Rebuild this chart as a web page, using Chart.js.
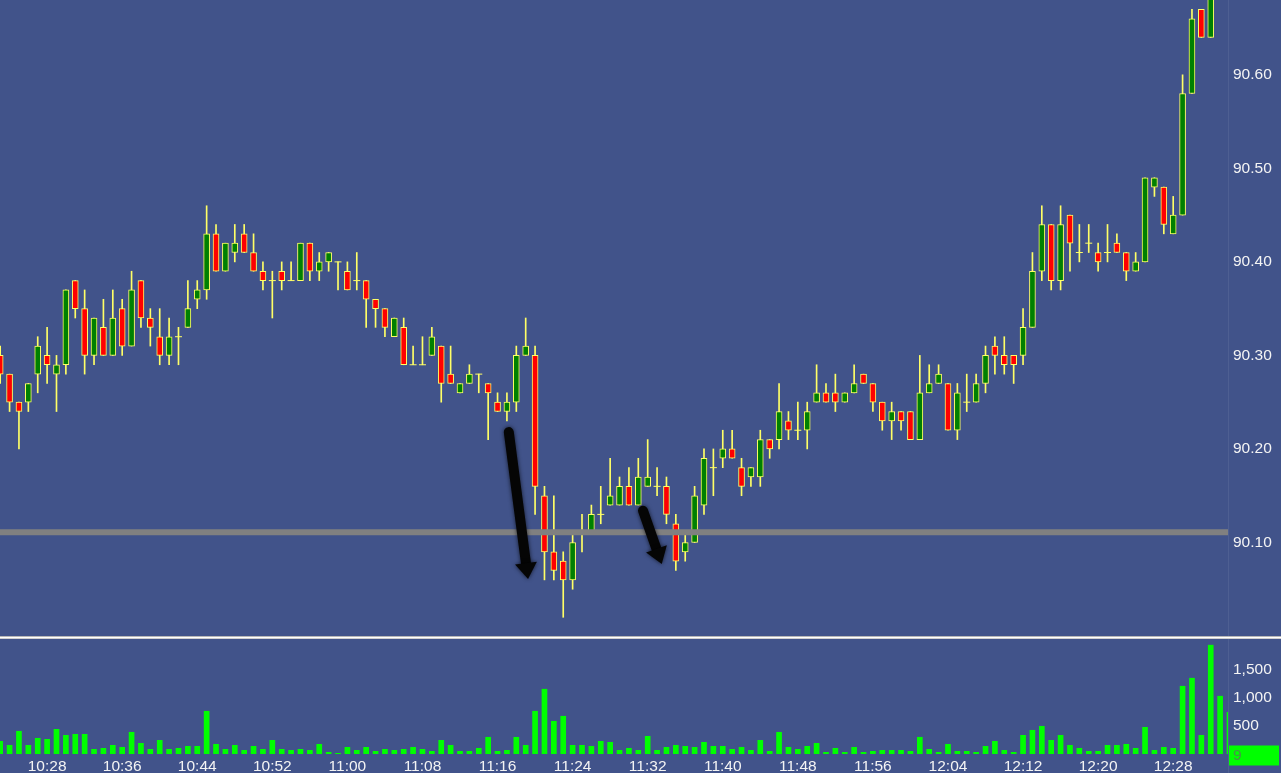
<!DOCTYPE html>
<html>
<head>
<meta charset="utf-8">
<script src="https://cdn.jsdelivr.net/npm/chart.js@4.4.0/dist/chart.umd.min.js"></script>
<style>
    html, body { margin: 0; padding: 0; background: #41538a; overflow: hidden; }
    #wrap { position: relative; width: 1281px; height: 773px; }
    #priceBox { position: absolute; left: 0; top: 0; width: 1281px; height: 636px; }
    #sep { position: absolute; left: 0; top: 636px; width: 1281px; height: 3px;
           background: linear-gradient(#b8b8b8 0, #b8b8b8 1px, #ffffff 1px, #ffffff 2px, #d0d0d0 2px); }
    #volBox { position: absolute; left: 0; top: 639px; width: 1281px; height: 134px; }
</style>
</head>
<body>
<div id="wrap">
    <div id="priceBox"><canvas id="priceChart" width="1281" height="636"></canvas></div>
    <div id="sep"></div>
    <div id="volBox"><canvas id="volumeChart" width="1281" height="134"></canvas></div>
</div>
<script>
// one candle per minute, first one at 10:23
const startTime = '10:23';
const timeTicks = ['10:28', '10:36', '10:44', '10:52', '11:00', '11:08', '11:16', '11:24',
    '11:32', '11:40', '11:48', '11:56', '12:04', '12:12', '12:20', '12:28'];

const opens = [
    90.30, 90.28, 90.25, 90.25, 90.28, 90.30, 90.28, 90.29, 90.38, 90.35,
    90.30, 90.33, 90.30, 90.35, 90.31, 90.38, 90.34, 90.32, 90.30, 90.32,
    90.33, 90.36, 90.37, 90.43, 90.39, 90.41, 90.43, 90.41, 90.39, 90.38,
    90.39, 90.38, 90.38, 90.42, 90.39, 90.40, 90.40, 90.39, 90.38, 90.38,
    90.36, 90.35, 90.32, 90.33, 90.29, 90.29, 90.30, 90.31, 90.28, 90.26,
    90.27, 90.28, 90.27, 90.25, 90.24, 90.25, 90.30, 90.30, 90.15, 90.09,
    90.08, 90.06, 90.11, 90.11, 90.13, 90.14, 90.14, 90.16, 90.14, 90.16,
    90.16, 90.16, 90.12, 90.09, 90.10, 90.14, 90.18, 90.19, 90.20, 90.18,
    90.17, 90.17, 90.21, 90.21, 90.23, 90.22, 90.22, 90.25, 90.26, 90.26,
    90.25, 90.26, 90.28, 90.27, 90.25, 90.23, 90.24, 90.24, 90.21, 90.26,
    90.27, 90.27, 90.22, 90.25, 90.25, 90.27, 90.31, 90.30, 90.30, 90.30,
    90.33, 90.39, 90.44, 90.38, 90.45, 90.41, 90.42, 90.41, 90.41, 90.42,
    90.41, 90.39, 90.40, 90.48, 90.48, 90.43, 90.45, 90.58, 90.67, 90.64,
    90.70, 90.73
];
const highs = [
    90.31, 90.28, 90.25, 90.27, 90.32, 90.33, 90.30, 90.37, 90.38, 90.37,
    90.34, 90.36, 90.37, 90.36, 90.39, 90.38, 90.35, 90.35, 90.34, 90.33,
    90.38, 90.38, 90.46, 90.44, 90.42, 90.44, 90.44, 90.43, 90.40, 90.39,
    90.40, 90.40, 90.42, 90.42, 90.41, 90.41, 90.40, 90.40, 90.41, 90.38,
    90.36, 90.35, 90.34, 90.34, 90.31, 90.32, 90.33, 90.31, 90.31, 90.27,
    90.29, 90.28, 90.27, 90.26, 90.26, 90.31, 90.34, 90.31, 90.16, 90.15,
    90.09, 90.11, 90.13, 90.14, 90.16, 90.19, 90.17, 90.18, 90.19, 90.21,
    90.18, 90.17, 90.13, 90.11, 90.16, 90.20, 90.20, 90.22, 90.22, 90.19,
    90.18, 90.22, 90.21, 90.27, 90.24, 90.25, 90.25, 90.29, 90.27, 90.28,
    90.26, 90.29, 90.28, 90.27, 90.25, 90.25, 90.24, 90.24, 90.30, 90.29,
    90.29, 90.27, 90.27, 90.28, 90.28, 90.31, 90.32, 90.32, 90.30, 90.35,
    90.41, 90.46, 90.44, 90.46, 90.45, 90.44, 90.44, 90.42, 90.44, 90.43,
    90.41, 90.41, 90.49, 90.49, 90.48, 90.47, 90.60, 90.67, 90.67, 90.71,
    90.74, 90.75
];
const lows = [
    90.27, 90.24, 90.20, 90.24, 90.26, 90.27, 90.24, 90.28, 90.34, 90.28,
    90.29, 90.30, 90.30, 90.30, 90.31, 90.33, 90.31, 90.29, 90.29, 90.29,
    90.33, 90.35, 90.36, 90.39, 90.39, 90.40, 90.41, 90.39, 90.37, 90.34,
    90.37, 90.38, 90.38, 90.38, 90.38, 90.39, 90.37, 90.37, 90.37, 90.33,
    90.33, 90.32, 90.32, 90.29, 90.29, 90.29, 90.30, 90.25, 90.27, 90.26,
    90.27, 90.26, 90.21, 90.24, 90.23, 90.24, 90.30, 90.13, 90.06, 90.06,
    90.02, 90.05, 90.09, 90.11, 90.12, 90.14, 90.14, 90.14, 90.14, 90.16,
    90.15, 90.12, 90.07, 90.08, 90.10, 90.13, 90.15, 90.18, 90.19, 90.15,
    90.16, 90.16, 90.19, 90.20, 90.21, 90.21, 90.20, 90.25, 90.25, 90.24,
    90.25, 90.26, 90.27, 90.24, 90.22, 90.21, 90.22, 90.21, 90.21, 90.26,
    90.27, 90.22, 90.21, 90.24, 90.25, 90.26, 90.28, 90.28, 90.27, 90.29,
    90.33, 90.38, 90.37, 90.37, 90.39, 90.40, 90.41, 90.39, 90.40, 90.41,
    90.38, 90.39, 90.40, 90.47, 90.43, 90.43, 90.45, 90.58, 90.64, 90.64,
    90.69, 90.70
];
const closes = [
    90.28, 90.25, 90.24, 90.27, 90.31, 90.29, 90.29, 90.37, 90.35, 90.30,
    90.34, 90.30, 90.34, 90.31, 90.37, 90.34, 90.33, 90.30, 90.32, 90.32,
    90.35, 90.37, 90.43, 90.39, 90.42, 90.42, 90.41, 90.39, 90.38, 90.38,
    90.38, 90.38, 90.42, 90.39, 90.40, 90.41, 90.40, 90.37, 90.38, 90.36,
    90.35, 90.33, 90.34, 90.29, 90.29, 90.29, 90.32, 90.27, 90.27, 90.27,
    90.28, 90.28, 90.26, 90.24, 90.25, 90.30, 90.31, 90.16, 90.09, 90.07,
    90.06, 90.10, 90.11, 90.13, 90.13, 90.15, 90.16, 90.14, 90.17, 90.17,
    90.16, 90.13, 90.08, 90.10, 90.15, 90.19, 90.18, 90.20, 90.19, 90.16,
    90.18, 90.21, 90.20, 90.24, 90.22, 90.22, 90.24, 90.26, 90.25, 90.25,
    90.26, 90.27, 90.27, 90.25, 90.23, 90.24, 90.23, 90.21, 90.26, 90.27,
    90.28, 90.22, 90.26, 90.25, 90.27, 90.30, 90.30, 90.29, 90.29, 90.33,
    90.39, 90.44, 90.38, 90.44, 90.42, 90.41, 90.42, 90.40, 90.41, 90.41,
    90.39, 90.40, 90.49, 90.49, 90.44, 90.45, 90.58, 90.66, 90.64, 90.70,
    90.73, 90.74
];
const volumes = [
    226, 155, 405, 155, 280, 262, 440, 333, 351, 351,
    83, 101, 155, 119, 387, 190, 83, 244, 83, 101,
    137, 137, 762, 173, 83, 155, 65, 137, 83, 244,
    83, 65, 83, 65, 173, 30, 12, 119, 65, 119,
    48, 83, 65, 83, 119, 83, 48, 244, 155, 48,
    48, 101, 298, 48, 65, 298, 155, 762, 1155, 583,
    673, 155, 155, 137, 226, 208, 65, 101, 65, 315,
    65, 119, 155, 137, 119, 208, 137, 137, 83, 119,
    65, 244, 48, 387, 119, 83, 137, 190, 30, 101,
    30, 119, 30, 48, 65, 65, 65, 48, 298, 83,
    30, 173, 48, 48, 30, 137, 226, 65, 30, 333,
    423, 494, 244, 333, 155, 101, 48, 48, 155, 155,
    173, 101, 476, 65, 119, 101, 1208, 1351, 333, 1940,
    1030, 744
];
const priceTicks = [90.10, 90.20, 90.30, 90.40, 90.50, 90.60];
const volumeTicks = [500, 1000, 1500];
const supportLevel = 90.111;
const lastVolumeLabel = 9;
// hand-drawn arrows, [minute index, price] from -> to
const arrows = [
    { from: [54.2, 90.218], to: [56.25, 90.061] },
    { from: [68.5, 90.134], to: [70.5, 90.077] }
];

const WICK = '#ffff66';
const UP = '#008000';
const DOWN = '#ff0000';
const TEXT = '#f4f4f4';
const FONT = { family: "'Liberation Sans', Arial, sans-serif", size: 15.5 };
const X_MIN = -0.02;
const X_MAX = 130.84;
const AXIS_W = 53;

function minuteIndex(t) {
    const [h, m] = t.split(':').map(Number);
    const [h0, m0] = startTime.split(':').map(Number);
    return (h * 60 + m) - (h0 * 60 + m0);
}

// no extra room for half labels at the ends of an axis
function noPadding(s) {
    s.paddingTop = 0;
    s.paddingBottom = 0;
    s.paddingLeft = 0;
    s.paddingRight = 0;
}

const idx = opens.map((_, i) => i);
const wickData = idx.map(i => ({ x: i, y: [lows[i], highs[i]] }));
const bodyData = idx.filter(i => opens[i] !== closes[i]).map(i => ({ x: i, y: [opens[i], closes[i]] }));
const bodyColors = bodyData.map(d => d.y[1] > d.y[0] ? UP : DOWN);
const dojiData = idx.filter(i => opens[i] === closes[i]).map(i => ({ x: i, y: opens[i] }));

const axisEdge = {
    id: 'axisEdge',
    beforeDatasetsDraw(chart) {
        const { ctx, chartArea } = chart;
        ctx.save();
        ctx.fillStyle = 'rgba(255,255,255,0.07)';
        ctx.fillRect(chartArea.right, 0, 1, chart.height);
        ctx.restore();
    }
};

const arrowPlugin = {
    id: 'arrows',
    afterDatasetsDraw(chart) {
        const { ctx, scales } = chart;
        ctx.save();
        ctx.shadowColor = 'rgba(0,0,0,0.7)';
        ctx.shadowBlur = 4;
        ctx.fillStyle = '#050505';
        ctx.strokeStyle = '#050505';
        arrows.forEach(a => {
            const x1 = scales.x.getPixelForValue(a.from[0]);
            const y1 = scales.y.getPixelForValue(a.from[1]);
            const x2 = scales.x.getPixelForValue(a.to[0]);
            const y2 = scales.y.getPixelForValue(a.to[1]);
            const len = Math.hypot(x2 - x1, y2 - y1);
            const ux = (x2 - x1) / len, uy = (y2 - y1) / len;
            const headLen = 16, headW = 11;
            const bx = x2 - ux * headLen, by = y2 - uy * headLen;
            ctx.lineCap = 'round';
            ctx.lineWidth = 10;
            ctx.beginPath();
            ctx.moveTo(x1, y1);
            ctx.lineTo(bx, by);
            ctx.stroke();
            ctx.beginPath();
            ctx.moveTo(x2, y2);
            ctx.lineTo(bx - uy * headW, by + ux * headW);
            ctx.lineTo(bx + uy * headW, by - ux * headW);
            ctx.closePath();
            ctx.fill();
        });
        ctx.restore();
    }
};

const lastValueBox = {
    id: 'lastValueBox',
    afterDraw(chart) {
        const { ctx, chartArea, scales } = chart;
        const y = scales.y.getPixelForValue(lastVolumeLabel);
        ctx.save();
        ctx.fillStyle = '#00ff00';
        ctx.fillRect(chartArea.right + 1, y - 8, 50, 20);
        ctx.fillStyle = '#4a8f4a';
        ctx.font = "15.5px 'Liberation Sans', Arial, sans-serif";
        ctx.textBaseline = 'middle';
        ctx.fillText(String(lastVolumeLabel), chartArea.right + 5, y + 2);
        ctx.restore();
    }
};

document.addEventListener('DOMContentLoaded', function () {
    const priceCtx = document.getElementById('priceChart');
    new Chart(priceCtx, {
        data: {
            datasets: [{
                type: 'line',
                data: [{ x: X_MIN, y: supportLevel }, { x: X_MAX, y: supportLevel }],
                borderColor: '#808080',
                borderWidth: 6,
                pointRadius: 0,
                order: 0
            }, {
                type: 'scatter',
                data: dojiData,
                pointStyle: 'line',
                pointRadius: 3.5,
                borderColor: WICK,
                borderWidth: 1,
                order: 1
            }, {
                type: 'bar',
                data: bodyData,
                backgroundColor: bodyColors,
                borderColor: WICK,
                borderWidth: 1,
                borderSkipped: false,
                barThickness: 6,
                grouped: false,
                order: 2
            }, {
                type: 'bar',
                data: wickData,
                backgroundColor: WICK,
                barThickness: 1,
                grouped: false,
                order: 3
            }]
        },
        options: {
            responsive: false,
            animation: false,
            devicePixelRatio: 1,
            layout: { padding: 0, autoPadding: false },
            plugins: { legend: { display: false }, tooltip: { enabled: false } },
            scales: {
                x: { type: 'linear', min: X_MIN, max: X_MAX, offset: false, display: false },
                y: {
                    position: 'right',
                    min: 90.00,
                    max: 90.68,
                    grid: { display: false, drawTicks: false },
                    border: { display: false },
                    ticks: { color: TEXT, font: FONT, padding: 5, callback: v => v.toFixed(2) },
                    afterBuildTicks: s => { s.ticks = priceTicks.map(v => ({ value: v })); },
                    afterFit: s => { s.width = AXIS_W; noPadding(s); }
                }
            }
        },
        plugins: [axisEdge, arrowPlugin]
    });

    const volumeCtx = document.getElementById('volumeChart');
    new Chart(volumeCtx, {
        type: 'bar',
        data: {
            datasets: [{
                data: idx.map(i => ({ x: i, y: volumes[i] })),
                backgroundColor: '#00ff00',
                barThickness: 5
            }]
        },
        options: {
            responsive: false,
            animation: false,
            devicePixelRatio: 1,
            layout: { padding: 0, autoPadding: false },
            plugins: { legend: { display: false }, tooltip: { enabled: false } },
            scales: {
                x: {
                    type: 'linear', min: X_MIN, max: X_MAX, offset: false,
                    grid: { display: false, drawTicks: false },
                    border: { display: false },
                    ticks: {
                        color: TEXT, font: FONT, padding: 3, autoSkip: false, maxRotation: 0,
                        callback: (v, i) => timeTicks[i]
                    },
                    afterBuildTicks: s => { s.ticks = timeTicks.map(t => ({ value: minuteIndex(t) })); },
                    afterFit: s => { s.height = 19; noPadding(s); }
                },
                y: {
                    position: 'right',
                    min: 0,
                    max: 2050,
                    grid: { display: false, drawTicks: false },
                    border: { display: false },
                    ticks: { color: TEXT, font: FONT, padding: 5, callback: v => v.toLocaleString('en-US') },
                    afterBuildTicks: s => { s.ticks = volumeTicks.map(v => ({ value: v })); },
                    afterFit: s => { s.width = AXIS_W; noPadding(s); }
                }
            }
        },
        plugins: [axisEdge, lastValueBox]
    });
});
</script>
</body>
</html>
